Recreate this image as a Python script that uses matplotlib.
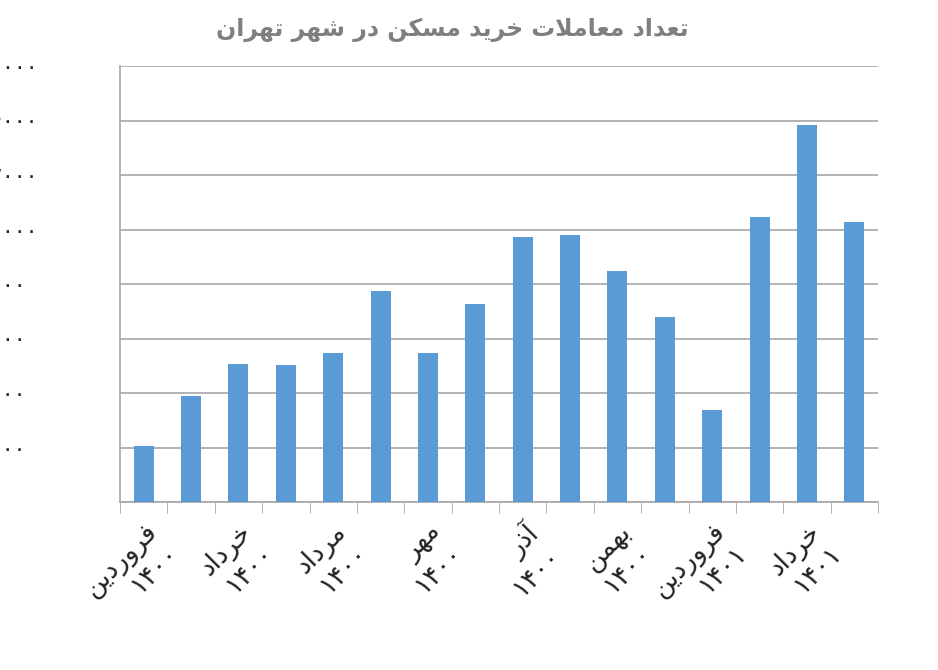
import numpy as np
import matplotlib
matplotlib.use('Agg')
import matplotlib.pyplot as plt

# monthly housing transactions in Tehran (estimated from the chart)
values = [2050, 3900, 5050, 5030, 5450, 7750, 5470, 7270,
          9720, 9800, 8480, 6790, 3380, 10460, 13830, 10280]
months = ['فروردین', 'خرداد', 'مرداد', 'مهر', 'آذر', 'بهمن', 'فروردین', 'خرداد']
years = ['۱۴۰۰', '۱۴۰۰', '۱۴۰۰', '۱۴۰۰', '۱۴۰۰', '۱۴۰۰', '۱۴۰۱', '۱۴۰۱']
title = 'تعداد معاملات خرید مسکن در شهر تهران'
ytick_vals = [0, 2000, 4000, 6000, 8000, 10000, 12000, 14000, 16000]

# minimal Persian shaping (matplotlib has no bidi / shaping)
FORMS = {
    'ا': (0xFE8D, 0xFE8E, None, None), 'آ': (0xFE81, 0xFE82, None, None),
    'ب': (0xFE8F, 0xFE90, 0xFE91, 0xFE92), 'ت': (0xFE95, 0xFE96, 0xFE97, 0xFE98),
    'خ': (0xFEA5, 0xFEA6, 0xFEA7, 0xFEA8), 'د': (0xFEA9, 0xFEAA, None, None),
    'ذ': (0xFEAB, 0xFEAC, None, None), 'ر': (0xFEAD, 0xFEAE, None, None),
    'س': (0xFEB1, 0xFEB2, 0xFEB3, 0xFEB4), 'ش': (0xFEB5, 0xFEB6, 0xFEB7, 0xFEB8),
    'ع': (0xFEC9, 0xFECA, 0xFECB, 0xFECC), 'ف': (0xFED1, 0xFED2, 0xFED3, 0xFED4),
    'ل': (0xFEDD, 0xFEDE, 0xFEDF, 0xFEE0), 'م': (0xFEE1, 0xFEE2, 0xFEE3, 0xFEE4),
    'ن': (0xFEE5, 0xFEE6, 0xFEE7, 0xFEE8), 'ه': (0xFEE9, 0xFEEA, 0xFEEB, 0xFEEC),
    'و': (0xFEED, 0xFEEE, None, None), 'ی': (0xFBFC, 0xFBFD, 0xFBFE, 0xFBFF),
    'ک': (0xFB8E, 0xFB8F, 0xFB90, 0xFB91),
}


def shape_word(w):
    out = []
    i = 0
    n = len(w)
    while i < n:
        c = w[i]
        prev_joins = i > 0 and w[i - 1] in FORMS and FORMS[w[i - 1]][2] is not None
        if c == 'ل' and i + 1 < n and w[i + 1] == 'ا':
            out.append(chr(0xFEFC if prev_joins else 0xFEFB))
            i += 2
            continue
        if c not in FORMS:
            out.append(c)
            i += 1
            continue
        f = FORMS[c]
        next_ok = i + 1 < n and w[i + 1] in FORMS and f[2] is not None
        if prev_joins and next_ok:
            out.append(chr(f[3]))
        elif prev_joins:
            out.append(chr(f[1]))
        elif next_ok:
            out.append(chr(f[2]))
        else:
            out.append(chr(f[0]))
        i += 1
    return ''.join(out)


def fa(text):
    words = text.split(' ')
    shaped = []
    for w in words:
        if all(ch in '۰۱۲۳۴۵۶۷۸۹' for ch in w):
            shaped.append(w)
        else:
            shaped.append(shape_word(w)[::-1])
    return ' '.join(shaped[::-1])


def fa_num(v):
    return ''.join('۰۱۲۳۴۵۶۷۸۹'[int(d)] for d in str(v))


plt.rcParams['font.family'] = ['DejaVu Sans']
fig = plt.figure(figsize=(9.38, 6.70), dpi=100)
ax = fig.add_axes([120 / 938, 1 - 502 / 670, 758 / 938, 436 / 670])

x = np.arange(len(values))
ax.bar(x, values, width=0.42, color='#5B9BD5', zorder=3)
ax.set_xlim(-0.5, len(values) - 0.5)
ax.set_ylim(0, 16000)
ax.set_yticks(ytick_vals)
ax.set_yticklabels([fa_num(v) for v in ytick_vals], fontsize=16, color='#222222')
ax.tick_params(axis='y', length=0, pad=102)
for t in ax.get_yticklabels():
    t.set_horizontalalignment('left')
ax.grid(axis='y', color='#A6A6A6', linewidth=1.2, zorder=0)

ax.set_xticks(x[::2])
ax.set_xticklabels([fa(m) + '\n' + y for m, y in zip(months, years)],
                   rotation=45, ha='right', rotation_mode='anchor',
                   fontsize=19, color='#222222', multialignment='right')
ax.tick_params(axis='x', which='major', length=0, pad=12)
ax.set_xticks(np.arange(-0.5, len(values), 1), minor=True)
ax.tick_params(axis='x', which='minor', length=8, color='#A6A6A6')

for s in ['top', 'right']:
    ax.spines[s].set_visible(False)
ax.spines['left'].set_color('#A6A6A6')
ax.spines['bottom'].set_color('#A6A6A6')
ax.spines['left'].set_linewidth(1.2)
ax.spines['bottom'].set_linewidth(1.2)

fig.text(452 / 938, 1 - 30 / 670, fa(title), ha='center', va='center',
         fontsize=17, fontweight='bold', color='#7F7F7F')

fig.savefig('out.png', dpi=100)
